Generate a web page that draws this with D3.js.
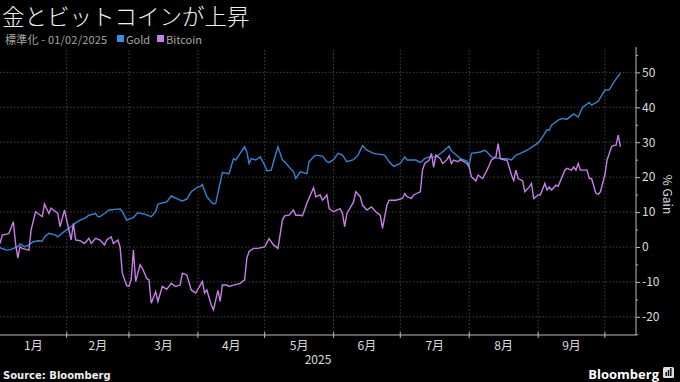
<!DOCTYPE html>
<html>
<head>
<meta charset="utf-8">
<script src="https://cdn.jsdelivr.net/npm/d3@7"></script>
<style>
  body { margin: 0; background: #000; }
  text { font-family: "Noto Sans CJK JP", "Noto Sans", sans-serif; }
</style>
</head>
<body>
<div id="chart"></div>
<script>
// series data (2025, % change since 01/02)
const goldDates = ["01-02","01-05","01-07","01-10","01-11","01-13","01-15","01-17","01-19","01-21","01-22","01-24","01-27","01-28","01-30",
  "02-01","02-02","02-03","02-05","02-07","02-09","02-11","02-14","02-15","02-16","02-18","02-20","02-25","02-26","02-28",
  "03-03","03-05","03-08","03-11","03-13","03-14","03-18","03-20","03-23","03-25","03-27","03-29",
  "04-01","04-02","04-03","04-05","04-07","04-08","04-09","04-12","04-15","04-17","04-18","04-20","04-22","04-23","04-24","04-25","04-27","04-29",
  "05-01","05-02","05-04","05-05","05-07","05-09","05-10","05-12","05-14","05-15","05-17","05-20","05-21","05-23","05-24","05-27","05-29","05-30",
  "06-01","06-03","06-05","06-07","06-10","06-12","06-14","06-16","06-19","06-24","06-26","06-28",
  "07-01","07-03","07-04","07-08","07-10","07-12","07-14","07-17","07-20","07-23","07-24","07-28","07-31",
  "08-01","08-02","08-06","08-08","08-09","08-11","08-15","08-18","08-20","08-22","08-24","08-27","08-29",
  "09-01","09-03","09-05","09-06","09-07","09-10","09-12","09-14","09-17","09-19","09-21","09-24","09-25","09-28",
  "10-01","10-03","10-05","10-08"];
const goldValues = [-0.2,-0.9,-0.7,0.1,0.9,0.1,0.6,1.5,1.8,1.7,2.9,3.9,3.4,2.9,4.0,
  4.9,5.4,5.8,6.9,7.7,8.2,9.1,9.6,8.7,8.7,9.6,10.6,10.9,10.1,7.7,
  8.5,9.8,9.4,8.7,10.1,12.3,12.9,14.6,13.7,13.2,13.7,15.8,
  17.2,17.3,17.9,14.4,12.9,12.3,12.5,21.3,21.0,25.3,24.9,26.8,28.7,27.2,23.9,25.3,24.9,25.8,
  23.4,21.8,22.0,24.4,28.7,24.9,24.4,22.9,21.5,19.6,21.5,21.0,24.4,25.8,26.3,26.0,24.4,24.2,
  25.0,26.8,26.3,24.4,25.0,26.3,29.0,27.7,26.8,26.3,24.4,23.1,
  23.9,25.8,24.9,24.9,24.2,25.3,25.8,25.8,27.2,28.9,27.5,25.3,24.6,
  23.4,26.8,27.2,27.7,27.2,25.8,25.3,25.3,24.9,26.3,26.8,27.7,28.5,
  29.8,31.5,33.6,33.4,34.9,36.3,36.8,36.6,38.1,37.2,40.0,41.4,40.6,41.7,
  44.9,45.0,47.2,49.8];

const btcDates = ["01-02","01-03","01-05","01-06","01-08","01-09","01-10","01-11","01-12","01-15","01-16","01-18","01-19","01-21","01-22","01-24","01-25","01-26","01-28","01-29","01-31",
  "02-01","02-03","02-04","02-05","02-07","02-09","02-11","02-12","02-14","02-16","02-18","02-19","02-21","02-22","02-24","02-25","02-26","02-28",
  "03-01","03-02","03-03","03-04","03-05","03-06","03-07","03-09","03-10","03-11","03-13","03-14","03-16","03-18","03-19","03-20","03-22","03-24","03-25","03-27","03-29","03-31",
  "04-03","04-04","04-05","04-07","04-08","04-10","04-11","04-12","04-14","04-15","04-17","04-20","04-22","04-23","04-24","04-26","04-28",
  "05-01","05-03","05-05","05-07","05-09","05-10","05-12","05-14","05-15","05-17","05-18","05-20","05-23","05-24","05-26","05-27","05-29","05-30",
  "06-01","06-04","06-05","06-06","06-07","06-10","06-11","06-13","06-14","06-16","06-18","06-20","06-22","06-23","06-25","06-26","06-29",
  "07-02","07-03","07-04","07-06","07-07","07-10","07-11","07-12","07-13","07-14","07-15","07-16","07-17","07-19","07-20","07-21","07-22","07-23","07-24","07-25","07-27","07-28","07-31",
  "08-01","08-02","08-04","08-05","08-07","08-09","08-10","08-11","08-13","08-14","08-15","08-17","08-18","08-20","08-21","08-22","08-23","08-25","08-26","08-28","08-29","08-30",
  "09-01","09-02","09-04","09-05","09-06","09-07","09-09","09-10","09-13","09-14","09-16","09-17","09-18","09-19","09-20","09-23","09-24","09-25","09-27","09-28","09-29",
  "10-01","10-02","10-04","10-05","10-06","10-07","10-08"];
const btcValues = [1.0,3.4,3.7,3.9,7.2,1.0,-3.2,0.1,-0.4,-0.9,4.9,10.1,9.6,8.7,12.3,9.6,11.1,10.6,9.6,5.8,10.6,
  7.7,2.0,6.8,2.0,1.8,1.0,2.5,1.0,2.5,2.0,0.6,2.0,2.9,1.0,2.0,0.0,-7.5,-11.1,
  -11.3,-9.4,-0.9,-9.9,-7.5,-5.1,-6.1,-9.0,-9.4,-16.1,-12.8,-15.6,-11.3,-12.1,-11.3,-10.4,-11.3,-10.9,-7.5,-8.0,-12.3,-13.2,
  -9.9,-13.2,-12.3,-16.6,-18.0,-12.4,-15.6,-10.9,-10.9,-11.3,-10.9,-10.4,-9.4,-3.2,-1.3,-0.4,-0.4,
  0.0,2.4,0.6,-0.4,7.7,8.9,9.1,10.6,9.1,9.1,8.9,12.5,17.0,14.4,14.9,13.4,14.9,11.0,
  10.1,11.0,9.6,5.8,9.6,12.9,15.8,14.4,12.0,10.6,11.5,10.1,9.1,5.3,12.0,13.4,13.4,
  13.9,15.3,14.4,13.9,14.9,15.8,22.0,23.9,24.4,24.9,26.8,22.8,26.3,25.3,23.9,24.4,25.0,26.1,23.9,24.9,24.4,25.0,23.9,
  22.9,20.1,18.9,20.6,19.6,22.0,23.4,24.9,25.8,29.6,25.3,24.9,24.9,20.6,19.0,22.0,19.6,19.0,15.8,17.2,18.2,13.9,
  14.9,14.9,18.2,16.3,17.2,16.3,17.7,17.4,22.0,22.5,22.0,22.9,22.0,23.9,22.0,22.0,19.6,19.6,15.3,15.1,15.8,
  20.6,24.9,28.7,29.1,29.1,32.0,28.7];

const yTicks = [-20, -10, 0, 10, 20, 30, 40, 50];
const monthLabels = ["1月","2月","3月","4月","5月","6月","7月","8月","9月"];

const width = 680, height = 382;
const plotLeft = 0, plotRight = 636, plotTop = 50, plotBottom = 335;
const goldColor = "#2f86d6", btcColor = "#c77ee9";

const parse = d3.timeParse("%Y-%m-%d");
const toPoints = (dates, vals) => dates.map((d, i) => ({ date: parse("2025-" + d), value: vals[i] }));
const gold = toPoints(goldDates, goldValues);
const btc = toPoints(btcDates, btcValues);

const svg = d3.select("#chart").append("svg")
  .attr("width", width)
  .attr("height", height)
  .style("background", "#000");

const x = d3.scaleTime()
  .domain([parse("2025-01-02"), parse("2025-10-15")])
  .range([plotLeft, plotRight]);
const y = d3.scaleLinear()
  .domain([-25.2, 56.4])
  .range([plotBottom, plotTop]);

// title + legend
svg.append("text").attr("x", 2).attr("y", 25)
  .attr("fill", "#f2f2f2").style("font-size", "22.5px").style("font-weight", 300)
  .text("金とビットコインが上昇");
svg.append("text").attr("x", 5).attr("y", 44)
  .attr("fill", "#a8a8a8").style("font-size", "11px").style("letter-spacing", "0.2px")
  .text("標準化 - 01/02/2025");
const legend = [{ name: "Gold", color: "#3a8cec", x: 117 }, { name: "Bitcoin", color: "#c77ef0", x: 157 }];
legend.forEach(l => {
  svg.append("rect").attr("x", l.x).attr("y", 35).attr("width", 7).attr("height", 7).attr("fill", l.color);
  svg.append("text").attr("x", l.x + 9).attr("y", 44).attr("fill", "#a8a8a8")
    .style("font-size", "11px").text(l.name);
});

// gridlines
const months = d3.timeMonth.range(parse("2025-02-01"), parse("2025-10-02"));
svg.append("g").selectAll("line").data(yTicks).join("line")
  .attr("x1", plotLeft).attr("x2", plotRight)
  .attr("y1", d => y(d)).attr("y2", d => y(d))
  .attr("stroke", "#555").attr("stroke-width", 0.8).attr("stroke-dasharray", "1.5,2");
svg.append("g").selectAll("line").data(months).join("line")
  .attr("x1", d => x(d)).attr("x2", d => x(d))
  .attr("y1", plotTop).attr("y2", plotBottom)
  .attr("stroke", "#555").attr("stroke-width", 0.8).attr("stroke-dasharray", "1.5,2");

// right y axis
const yAxis = svg.append("g").attr("transform", `translate(${plotRight},0)`)
  .call(d3.axisRight(y).tickValues(yTicks).tickSize(4).tickPadding(2).tickFormat(d3.format("d")));
svg.append("g").attr("transform", `translate(${plotRight},0)`)
  .call(d3.axisRight(y).tickValues(d3.range(-25, 56, 5).filter(v => v % 10 !== 0)).tickSize(2).tickFormat(""))
  .call(g => g.select(".domain").remove())
  .selectAll("line").attr("stroke", "#bbb");
yAxis.select(".domain").attr("stroke", "#bbb").attr("d", `M0,${plotTop - 3}V${plotBottom}`);
yAxis.selectAll(".tick line").attr("stroke", "#bbb");
yAxis.selectAll(".tick text").attr("fill", "#ddd").style("font-size", "12px")
  .text(d => d < 0 ? "-" + Math.abs(d) : d);
svg.append("text")
  .attr("transform", `translate(663,${(plotTop + plotBottom) / 2 + 2}) rotate(90)`)
  .attr("text-anchor", "middle").attr("fill", "#ddd").style("font-size", "12px")
  .text("% Gain");

// bottom x axis
svg.append("line").attr("x1", plotLeft).attr("x2", plotRight)
  .attr("y1", plotBottom).attr("y2", plotBottom).attr("stroke", "#bbb");
svg.append("g").selectAll("line").data(months).join("line")
  .attr("x1", d => x(d)).attr("x2", d => x(d))
  .attr("y1", plotBottom - 3).attr("y2", plotBottom + 3).attr("stroke", "#bbb");
svg.append("g").selectAll("text").data(monthLabels).join("text")
  .attr("x", (d, i) => {
    const s = Math.max(x(new Date(2025, i, 1)), plotLeft);
    return (s + x(new Date(2025, i + 1, 1))) / 2;
  })
  .attr("y", 350).attr("text-anchor", "middle")
  .attr("fill", "#ddd").style("font-size", "12px")
  .text(d => d);
svg.append("text").attr("x", (plotLeft + plotRight) / 2).attr("y", 364)
  .attr("text-anchor", "middle").attr("fill", "#ddd").style("font-size", "12px").text("2025");

// lines
const line = d3.line().x(d => x(d.date)).y(d => y(d.value));
svg.append("path").datum(gold).attr("d", line)
  .attr("fill", "none").attr("stroke", goldColor).attr("stroke-width", 1.4);
svg.append("path").datum(btc).attr("d", line)
  .attr("fill", "none").attr("stroke", btcColor).attr("stroke-width", 1.4);

// footer
svg.append("text").attr("x", 3).attr("y", 379).attr("fill", "#eee")
  .style("font-family", "'DejaVu Sans', sans-serif")
  .style("font-size", "10px").style("font-weight", "bold").text("Source: Bloomberg");
svg.append("text").attr("x", 659).attr("y", 379).attr("text-anchor", "end").attr("fill", "#fff")
  .style("font-family", "'Open Sans', sans-serif").style("font-size", "13px").style("font-weight", "bold")
  .text("Bloomberg");
svg.append("rect").attr("x", 663).attr("y", 367).attr("width", 11).attr("height", 11).attr("rx", 1.5).attr("fill", "#ddd");
svg.append("g").selectAll("rect").data([4, 6, 8]).join("rect")
  .attr("x", (d, i) => 665.5 + i * 2.3).attr("y", d => 376 - d).attr("width", 1.4).attr("height", d => d)
  .attr("fill", "#000");
</script>
</body>
</html>
